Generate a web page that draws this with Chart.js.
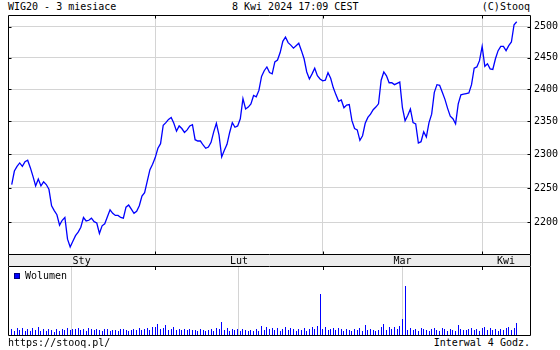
<!DOCTYPE html>
<html lang="pl">
<head>
<meta charset="UTF-8" />
<title>WIG20 - 3 miesiace</title>
<script src="https://cdn.jsdelivr.net/npm/chart.js"></script>
<style>
  body {
    margin: 0; background: #fff;
    width: 560px; height: 350px; overflow: hidden; position: relative;
    font-family: "DejaVu Sans Mono", monospace; font-size: 10px; color: #000;
  }
  .txt { position: absolute; line-height: 12px; white-space: pre; }
  #priceChart { position: absolute; left: 0; top: 0; }
  #volChart { position: absolute; left: 0; top: 267px; }
  #legendBox {
    position: absolute; left: 14px; top: 273px; width: 4px; height: 4px;
    background: #0000ff; border: 1px solid #000080;
  }
</style>
</head>
<body>

<div class="txt" style="left:8px; top:1px;">WIG20 - 3 miesiace</div>
<div class="txt" style="left:232px; top:1px;">8 Kwi 2024 17:09 CEST</div>
<div class="txt" style="right:30px; top:1px;">(C)Stooq</div>

<canvas id="priceChart" width="560" height="267"></canvas>
<canvas id="volChart" width="560" height="69"></canvas>

<div id="legendBox"></div>
<div class="txt" style="left:25px; top:270px;">Wolumen</div>

<div class="txt" style="left:8px; top:337px;">https://stooq.pl/</div>
<div class="txt" style="right:30px; top:337px;">Interwal 4 Godz.</div>

<script>
// 4-hour bars, 8 Jan - 8 Apr 2024 (3 bars per session)
const months = ['Sty', 'Lut', 'Mar', 'Kwi'];
const monthStart = [0, 54, 117, 177];   // index of first bar in each month
const yTicks = [2200, 2250, 2300, 2350, 2400, 2450, 2500];

const close = [
  2255, 2275, 2282, 2287, 2282, 2289, 2291, 2280, 2267, 2253,
  2263, 2253, 2259, 2255, 2248, 2224, 2217, 2211, 2196, 2203,
  2207, 2176, 2165, 2173, 2181, 2186, 2193, 2207, 2202, 2203,
  2206, 2201, 2199, 2184, 2195, 2198, 2208, 2218, 2213, 2210,
  2210, 2207, 2206, 2222, 2225, 2219, 2213, 2216, 2224, 2238,
  2243, 2260, 2277, 2285, 2295, 2309, 2316, 2344, 2348, 2353,
  2356, 2347, 2335, 2343, 2339, 2333, 2337, 2343, 2345, 2322,
  2320, 2320, 2314, 2309, 2311, 2318, 2334, 2347, 2329, 2296,
  2306, 2315, 2333, 2348, 2341, 2343, 2354, 2385, 2369, 2372,
  2377, 2390, 2388, 2398, 2420, 2429, 2435, 2426, 2424, 2443,
  2446, 2458, 2476, 2483, 2474, 2470, 2465, 2469, 2473, 2461,
  2448, 2427, 2416, 2424, 2433, 2421, 2416, 2413, 2414, 2426,
  2417, 2402, 2391, 2381, 2383, 2371, 2375, 2376, 2351, 2339,
  2337, 2321, 2328, 2347, 2356, 2361, 2368, 2372, 2377, 2414,
  2427, 2421, 2410, 2410, 2407, 2409, 2411, 2371, 2351, 2359,
  2369, 2348, 2346, 2317, 2319, 2334, 2326, 2348, 2361, 2395,
  2407, 2406, 2395, 2384, 2370, 2358, 2354, 2346, 2377, 2391,
  2392, 2393, 2394, 2407, 2433, 2435, 2445, 2468, 2436, 2440,
  2432, 2431, 2448, 2461, 2468, 2468, 2461, 2469, 2475, 2503,
  2508
];

// relative volume per bar
const volume = [
  6,4,7, 5,7,4, 6,4,7, 5,8,4, 6,4,6, 5,3,6, 4,6,5, 7,5,6, 6,7,5,
  6,4,7, 6,5,6, 5,4,6, 6,4,5, 5,4,6, 6,5,4, 5,6,5, 7,5,6, 7,5,8,
  8,11,6, 7,10,5, 6,8,5, 6,5,6, 5,6,5, 5,4,6, 5,4,5, 6,4,7, 6,13,5,
  7,4,6, 5,6,4, 6,5,4, 5,4,6, 4,9,5, 8,6,7, 5,7,4, 6,8,5, 7,6,4,
  6,5,7, 4,6,8, 6,9,41,
  6,8,5, 6,7,5, 7,6,4, 6,5,4, 6,5,7, 4,10,5, 6,5,4, 5,8,11, 5,8,6,
  8,6,9, 16,49,5, 7,5,6, 4,7,6, 5,4,6, 7,5,4, 7,6,4, 6,5,4, 10,6,5,
  5,6,7, 5,6,4,
  7,8,5, 7,5,6, 4,6,5, 7,8,5, 7,12
];

const X_MIN = -1.4, X_MAX = 195;
const GRID = '#d4d4d4';
const FONT = { family: '"DejaVu Sans Mono", monospace', size: 10 };

Chart.defaults.font = FONT;
Chart.defaults.color = '#000';

const edges = [X_MIN, ...monthStart.slice(1), X_MAX];
const labelPos = months.map((m, i) => (edges[i] + edges[i + 1]) / 2);
const boundaries = monthStart.slice(1);

function px(v) { return Math.round(v) + 0.5; }

const pricePanel = {
  id: 'pricePanel',
  beforeDraw(chart) {
    const { ctx, chartArea: a } = chart;
    ctx.save();
    ctx.fillStyle = '#ececec';
    ctx.fillRect(a.left, a.bottom, a.right - a.left, 12);
    ctx.restore();
  },
  afterDraw(chart) {
    const { ctx, chartArea: a, scales } = chart;
    const L = px(a.left), R = px(a.right), T = px(a.top), B = px(a.bottom), BB = B + 12;
    ctx.save();
    ctx.strokeStyle = '#000';
    ctx.lineWidth = 1;
    ctx.beginPath();
    ctx.rect(L, T, R - L, B - T);
    ctx.moveTo(L, B); ctx.lineTo(L, BB); ctx.lineTo(R, BB); ctx.lineTo(R, B);
    yTicks.forEach(v => {
      const y = px(scales.y.getPixelForValue(v));
      ctx.moveTo(L, y); ctx.lineTo(L + 3, y);
      ctx.moveTo(R - 3, y); ctx.lineTo(R, y);
    });
    boundaries.forEach(m => {
      const x = px(scales.x.getPixelForValue(m));
      ctx.moveTo(x, T); ctx.lineTo(x, T + 3);
      ctx.moveTo(x, B - 3); ctx.lineTo(x, B);
    });
    ctx.stroke();
    ctx.restore();
  }
};

const volPanel = {
  id: 'volPanel',
  // snap the 1px bars to whole pixel columns so they stay crisp
  beforeDatasetsDraw(chart) {
    chart.getDatasetMeta(0).data.forEach(el => { el.x = Math.floor(el.x) + 0.5; });
  },
  afterDraw(chart) {
    const { ctx, chartArea: a, scales } = chart;
    const L = px(a.left), R = px(a.right), B = px(a.bottom);
    ctx.save();
    ctx.strokeStyle = '#000';
    ctx.lineWidth = 1;
    ctx.beginPath();
    ctx.moveTo(L, 0); ctx.lineTo(L, B); ctx.lineTo(R, B); ctx.lineTo(R, 0);
    boundaries.forEach(m => {
      const x = px(scales.x.getPixelForValue(m));
      ctx.moveTo(x, 0); ctx.lineTo(x, 3);
    });
    ctx.stroke();
    ctx.restore();
  }
};

new Chart(document.getElementById('priceChart'), {
  type: 'line',
  data: {
    datasets: [{
      data: close.map((v, i) => ({ x: i, y: v })),
      borderColor: '#0000ff',
      borderWidth: 1.3,
      pointRadius: 0,
      tension: 0,
      fill: false
    }]
  },
  options: {
    responsive: false,
    animation: false,
    devicePixelRatio: 1,
    layout: { padding: { left: 8, top: 15, right: 0, bottom: 1 } },
    plugins: { legend: { display: false }, tooltip: { enabled: false } },
    scales: {
      x: {
        type: 'linear', min: X_MIN, max: X_MAX,
        grid: { display: false, drawTicks: false },
        border: { display: false },
        afterBuildTicks: s => { s.ticks = labelPos.map(v => ({ value: v })); },
        afterFit: s => { s.height = 12; },
        ticks: { autoSkip: false, maxRotation: 0, padding: 1, callback: (v, i) => months[i] }
      },
      xg: {
        type: 'linear', position: 'bottom', min: X_MIN, max: X_MAX,
        grid: { color: GRID, drawTicks: false },
        border: { display: false },
        afterBuildTicks: s => { s.ticks = boundaries.map(v => ({ value: v })); },
        afterFit: s => { s.height = 0; },
        ticks: { display: false }
      },
      y: {
        type: 'logarithmic', position: 'right', min: 2155, max: 2519,
        grid: { color: GRID, drawTicks: false },
        border: { display: false },
        afterBuildTicks: s => { s.ticks = yTicks.map(v => ({ value: v })); },
        afterFit: s => { s.width = 30; },
        ticks: { padding: 4, callback: v => String(v) }
      }
    }
  },
  plugins: [pricePanel]
});

new Chart(document.getElementById('volChart'), {
  type: 'bar',
  data: {
    datasets: [{
      label: 'Wolumen',
      data: volume.map((v, i) => ({ x: i, y: v })),
      backgroundColor: '#0000ff',
      borderWidth: 0,
      inflateAmount: 0,
      barThickness: 1
    }]
  },
  options: {
    responsive: false,
    animation: false,
    devicePixelRatio: 1,
    layout: { padding: { left: 8, top: 0, right: 30, bottom: 1 } },
    plugins: { legend: { display: false }, tooltip: { enabled: false } },
    scales: {
      x: {
        type: 'linear', offset: false, min: X_MIN, max: X_MAX,
        grid: { color: GRID, drawTicks: false },
        border: { display: false },
        afterBuildTicks: s => { s.ticks = boundaries.map(v => ({ value: v })); },
        afterFit: s => { s.height = 0; },
        ticks: { display: false }
      },
      y: { display: false, min: 0, max: 68 }
    }
  },
  plugins: [volPanel]
});
</script>

</body>
</html>
